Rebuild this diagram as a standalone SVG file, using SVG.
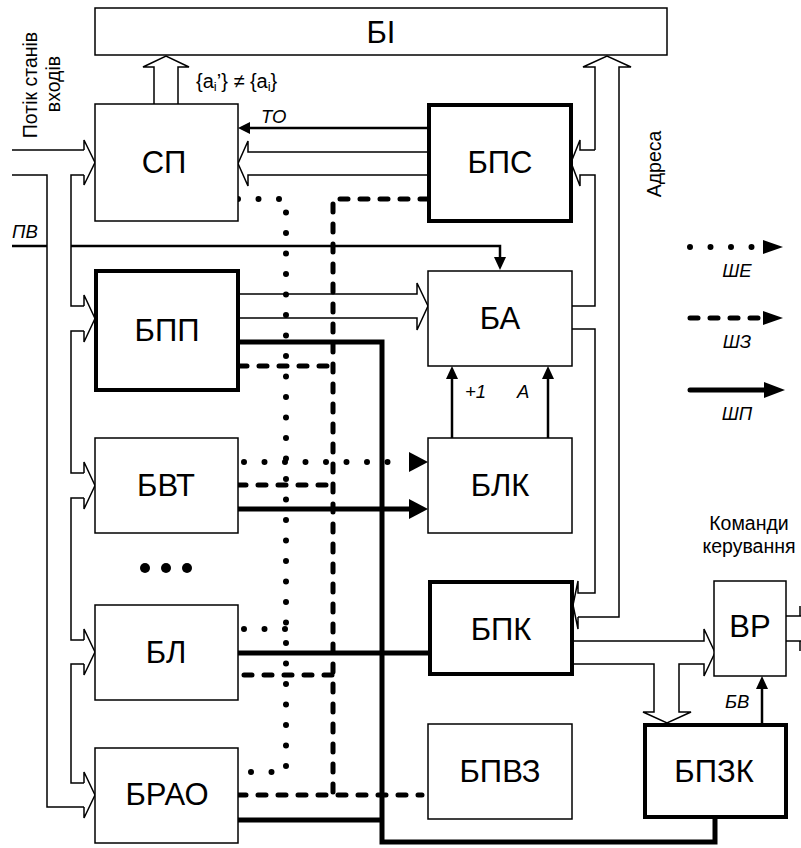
<svg xmlns="http://www.w3.org/2000/svg" width="801" height="848" viewBox="0 0 801 848">
<style>
text{font-family:"Liberation Sans",Arial,sans-serif;fill:#000}
.blk{font-size:31px;text-anchor:middle}
.lbl{font-size:19.5px}
.it{font-size:18.5px;font-style:italic}
.thin{fill:#fff;stroke:#000;stroke-width:1.5}
.thick{fill:#fff;stroke:#000;stroke-width:4}
.ln{fill:none;stroke:#000;stroke-width:1.5}
.hol{fill:#fff;stroke:#000;stroke-width:1.5}
.dot{fill:none;stroke:#000;stroke-width:6;stroke-linecap:round;stroke-dasharray:0 20.5}
.dash{fill:none;stroke:#000;stroke-width:5;stroke-linecap:round;stroke-dasharray:8 12}
.bus{fill:none;stroke:#000;stroke-width:5}
.ctl{fill:none;stroke:#000;stroke-width:2.5}
</style>

<g id="connectors">
<!-- input bus -->
<path class="ln" d="M12,150 H84"/>
<path class="ln" d="M12,175 H47 V807 H84"/>
<path class="ln" d="M84,175 H71 V306 H84"/>
<path class="ln" d="M84,331 H71 V473 H84"/>
<path class="ln" d="M84,498 H71 V640 H84"/>
<path class="ln" d="M84,664 H71 V783 H84"/>
<path class="ln" d="M84,150 V140 L95,162.5 L84,185 V175"/>
<path class="ln" d="M84,306 V295 L95,318.5 L84,342 V331"/>
<path class="ln" d="M84,473 V462 L95,485.5 L84,509 V498"/>
<path class="ln" d="M84,640 V629 L95,652 L84,675 V664"/>
<path class="ln" d="M84,783 V772 L95,795 L84,818 V807"/>
<!-- ПВ -->
<path class="ctl" d="M12,246 H47"/>
<path class="ctl" d="M71,246 H500 V258"/>
<path d="M494,257 L506,257 L500,270 Z" fill="#000"/>
<!-- СП to БІ -->
<path class="hol" d="M154,104 V67 H143 L166,56 L189,67 H178 V104"/>
<!-- БПС to СП -->
<path class="ctl" d="M428,128 H248"/>
<path d="M250,122 L250,134 L238,128 Z" fill="#000"/>
<path class="ln" d="M428,152 H248 V141 L238,163.5 L248,186 V175 H428"/>
<!-- БПП to БА -->
<path class="ln" d="M239,294 H417 V283 L428,306 L417,330 V318 H239"/>
<!-- address bus -->
<path class="ln" d="M595,150 V67 H583 L607,56 L631,67 H619 V617 H578"/>
<path class="ln" d="M595,150 H580 V140 L571,162.5 L580,186 V175 H595 V306 H572"/>
<path class="ln" d="M572,329 H595 V593 H578 V581 L573,605 L578,629 V617"/>
<!-- БЛК to БА -->
<path class="ctl" d="M452,438 V378" stroke-width="3"/>
<path d="M446,379 L458,379 L452,366 Z" fill="#000"/>
<path class="ctl" d="M548,438 V378" stroke-width="3"/>
<path d="M542,379 L554,379 L548,366 Z" fill="#000"/>
<!-- БПК to ВР / БПЗК -->
<path class="ln" d="M573,641 H704 V629 L715,652.5 L704,676 V664 H679 V712 H691 L667,723 L643,712 H654 V664 H573"/>
<!-- ВР outputs -->
<path class="ln" d="M786,616 H801 M786,641 H801 M800,606 V616 M800,641 V651"/>
<!-- БВ -->
<path class="ctl" d="M762,723 V688" stroke-width="3"/>
<path d="M756,689 L768,689 L762,676 Z" fill="#000"/>
<!-- ШЕ dotted -->
<path class="dot" d="M238,199 H286 V772 H244"/>
<path class="dot" d="M244,462 H405"/>
<path d="M409,452 L409,472 L428,462 Z" fill="#000"/>
<path class="dot" d="M244,629 H286"/>
<!-- ШЗ dashed -->
<path class="dash" d="M428,199 H333 V795"/>
<path class="dash" d="M239,366 H333"/>
<path class="dash" d="M238,485 H333"/>
<path class="dash" d="M244,675 H333"/>
<path class="dash" d="M238,795 H422"/>
<!-- ШП thick -->
<path class="bus" d="M239,342 H382 V842 H715 V818"/>
<path class="bus" d="M238,509 H410"/>
<path d="M409,499 L409,519 L428,509 Z" fill="#000"/>
<path class="bus" d="M238,653 H428"/>
<path class="bus" d="M238,820 H382"/>
</g>

<g id="BI"><rect class="thin" x="95" y="8" width="572" height="47"/><text class="blk" x="381" y="43">БІ</text></g>
<g id="SP"><rect class="thin" x="95" y="104" width="143" height="117"/><text class="blk" x="164" y="173">СП</text></g>
<g id="BPS"><rect class="thick" x="429" y="105" width="142" height="116"/><text class="blk" x="500" y="173">БПС</text></g>
<g id="BPP"><rect class="thick" x="96" y="271" width="142" height="119"/><text class="blk" x="167" y="341">БПП</text></g>
<g id="BA"><rect class="thin" x="428" y="271" width="144" height="95"/><text class="blk" x="500" y="329">БА</text></g>
<g id="BVT"><rect class="thin" x="95" y="438" width="143" height="95"/><text class="blk" x="166" y="496">БВТ</text></g>
<g id="BLK"><rect class="thin" x="428" y="438" width="144" height="95"/><text class="blk" x="500" y="496">БЛК</text></g>
<g id="ellipsis"><circle cx="145" cy="568" r="5"/><circle cx="166" cy="568" r="5"/><circle cx="187" cy="568" r="5"/></g>
<g id="BL"><rect class="thin" x="95" y="605" width="143" height="95"/><text class="blk" x="166" y="663">БЛ</text></g>
<g id="BPK"><rect class="thick" x="430" y="582" width="142" height="92"/><text class="blk" x="501" y="640">БПК</text></g>
<g id="VR"><rect class="thin" x="714" y="581" width="72" height="95"/><text class="blk" x="750" y="637">ВР</text></g>
<g id="BRAO"><rect class="thin" x="95" y="748" width="143" height="95"/><text class="blk" x="167" y="805">БРАО</text></g>
<g id="BPVZ"><rect class="thin" x="428" y="724" width="144" height="95"/><text class="blk" x="500" y="782">БПВЗ</text></g>
<g id="BPZK"><rect class="thick" x="645" y="725" width="141" height="92"/><text class="blk" x="714" y="782">БПЗК</text></g>

<g id="labels">
<text class="lbl" transform="translate(37,85) rotate(-90)" text-anchor="middle">Потік станів</text>
<text class="lbl" transform="translate(60,84) rotate(-90)" text-anchor="middle">входів</text>
<text class="lbl" transform="translate(661,164) rotate(-90)" text-anchor="middle">Адреса</text>
<text class="lbl" x="749" y="530" text-anchor="middle" font-size="20">Команди</text>
<text class="lbl" x="749" y="553" text-anchor="middle" font-size="20">керування</text>
<text x="196" y="88" font-size="20">{a<tspan font-size="13" dy="3">i</tspan><tspan dy="-3">’} ≠ {a</tspan><tspan font-size="13" dy="3">i</tspan><tspan dy="-3">}</tspan></text>
<text class="it" x="261" y="123">ТО</text>
<text class="it" x="12" y="238">ПВ</text>
<text class="it" x="465" y="398">+1</text>
<text class="it" x="517" y="398">А</text>
<text class="it" x="725" y="708">БВ</text>
</g>

<g id="legend">
<path class="dot" d="M690,247 H756"/>
<path d="M763,240 L763,254 L783,247 Z" fill="#000"/>
<text class="it" x="737" y="277" text-anchor="middle">ШЕ</text>
<path class="dash" d="M690,318 H758"/>
<path d="M763,311 L763,325 L783,318 Z" fill="#000"/>
<text class="it" x="737" y="348" text-anchor="middle">ШЗ</text>
<path class="bus" d="M690,390 H766" stroke-linecap="round"/>
<path d="M764,382 L764,398 L785,390 Z" fill="#000"/>
<text class="it" x="737" y="420" text-anchor="middle">ШП</text>
</g>
</svg>
